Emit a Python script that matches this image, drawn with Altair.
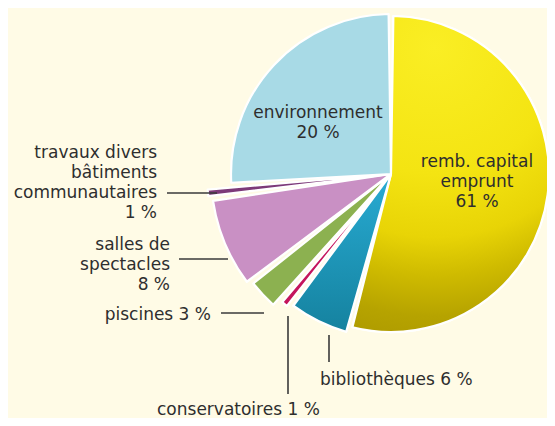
import math
import altair as alt
import pandas as pd

# ---- data ----
keys = ["remb", "biblio", "conserv", "piscines", "salles", "travaux", "env"]
names = [
    "remb. capital\nemprunt",
    "bibliothèques",
    "conservatoires",
    "piscines",
    "salles de\nspectacles",
    "travaux divers\nbâtiments\ncommunautaires",
    "environnement",
]
shares = [61, 6, 1, 3, 8, 1, 20]

# ---- styles ----
fills = {
    "remb": "#efdc0c",
    "biblio": "#1b95b5",
    "conserv": "#c4145c",
    "piscines": "#8cb150",
    "salles": "#c990c4",
    "travaux": "#7d3a78",
    "env": "#a8dae6",
}
# outer radius per slice (px) - the original drawing pulls the small slices out
radius_px = {"remb": 158, "biblio": 164, "conserv": 168, "piscines": 176,
             "salles": 180, "travaux": 184, "env": 160}
# label layout (chart px): anchor x, first baseline y, alignment, pct on same line
label_layout = {
    "remb": (469, 159, "center", False),
    "env": (310, 110, "center", False),
    "travaux": (149, 150, "right", False),
    "salles": (162, 242, "right", False),
    "piscines": (203, 312, "right", True),
    "conserv": (149, 407, "left", True),
    "biblio": (312, 377, "left", True),
}
leaders = {
    "travaux": (159, 185, 209, 185),
    "salles": (171, 251, 220, 251),
    "piscines": (213, 305, 256, 305),
    "conserv": (280, 308, 280, 386),
    "biblio": (321, 327, 321, 354),
}
CX, CY = 383, 166
W, H = 539, 410
FONT = "DejaVu Sans"
FS = 17
TXT = "#2e2e2e"

df = pd.DataFrame({
    "key": keys,
    "share": shares,
    "order": list(range(len(keys))),
    "r": [radius_px[k] for k in keys],
})

base = (
    alt.Chart(df)
    .transform_window(cum="sum(share)", sort=[alt.SortField("order")], frame=[None, 0])
    .transform_calculate(start="datum.cum - datum.share")
)

# the printed chart draws the big slices narrower / the small ones wider than
# their true proportions; a piecewise theta scale reproduces that drawing
deg = math.pi / 180
theta_scale = alt.Scale(type="linear", domain=[0, 61, 80, 100],
                        range=[0, 195 * deg, 266 * deg, 360 * deg])

arc_enc = dict(
    theta=alt.Theta("start:Q", scale=theta_scale),
    theta2=alt.Theta2("cum:Q"),
    radius=alt.Radius("r:Q", scale=None),
    x=alt.value(CX),
    y=alt.value(CY),
)
arc_style = dict(padAngle=0.03, stroke="#ffffff", strokeWidth=2.2, strokeJoin="round")

arcs = base.mark_arc(**arc_style).encode(
    color=alt.Color("key:N", scale=alt.Scale(domain=keys, range=[fills[k] for k in keys]), legend=None),
    **arc_enc,
)

yellow_grad = {
    "gradient": "radial",
    "x1": 0.45, "y1": 0.1, "r1": 0.0,
    "x2": 0.45, "y2": 0.1, "r2": 1.0,
    "stops": [
        {"offset": 0.0, "color": "#faee24"},
        {"offset": 0.4, "color": "#f4e412"},
        {"offset": 0.6, "color": "#e8d406"},
        {"offset": 0.72, "color": "#cfbb00"},
        {"offset": 0.85, "color": "#b6a300"},
        {"offset": 1.0, "color": "#a89500"},
    ],
}
blue_grad = {
    "gradient": "linear",
    "x1": 0, "y1": 0, "x2": 0, "y2": 1,
    "stops": [
        {"offset": 0.0, "color": "#28abd3"},
        {"offset": 1.0, "color": "#15829f"},
    ],
}
arc_yellow = base.transform_filter(alt.datum.key == "remb").mark_arc(fill=yellow_grad, **arc_style).encode(**arc_enc)
arc_blue = base.transform_filter(alt.datum.key == "biblio").mark_arc(fill=blue_grad, **arc_style).encode(**arc_enc)

# ---- labels ----
rows = []
for k, n, s in zip(keys, names, shares):
    lx, ly, al, inline = label_layout[k]
    txt = f"{n} {s} %" if inline else f"{n}\n{s} %"
    rows.append({"key": k, "txt": txt, "lx": lx, "ly": ly, "al": al})
lab_df = pd.DataFrame(rows)

def text_layer(al):
    return (
        alt.Chart(lab_df)
        .transform_filter(alt.datum.al == al)
        .mark_text(align=al, baseline="alphabetic", font=FONT, fontSize=FS,
                   color=TXT, lineBreak="\n", lineHeight=20)
        .encode(x=alt.X("lx:Q", scale=None), y=alt.Y("ly:Q", scale=None), text="txt:N")
    )

lead_df = pd.DataFrame([
    {"key": k, "x1": v[0], "y1": v[1], "x2": v[2], "y2": v[3]} for k, v in leaders.items()
])
rules = alt.Chart(lead_df).mark_rule(color="#3a3a3a", strokeWidth=1.6).encode(
    x=alt.X("x1:Q", scale=None), y=alt.Y("y1:Q", scale=None),
    x2=alt.X2("x2:Q"), y2=alt.Y2("y2:Q"),
)

chart = (
    alt.layer(arcs, arc_yellow, arc_blue, rules,
              text_layer("right"), text_layer("left"), text_layer("center"))
    .properties(width=W, height=H, padding=0, autosize=alt.AutoSizeParams(type="none"),
                background="#fffbe6")
    .configure_view(stroke=None)
)

chart.save("out.html", embed_options={"renderer": "svg", "actions": False})
